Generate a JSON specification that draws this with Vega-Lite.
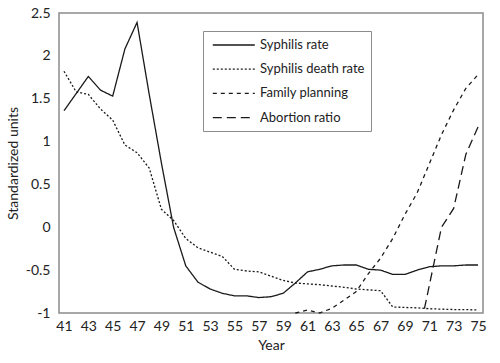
{
  "$schema": "https://vega.github.io/schema/vega-lite/v6.json",
  "width": 424,
  "height": 300,
  "autosize": "none",
  "padding": {"left": 59, "top": 13, "right": 17, "bottom": 50},
  "background": "white",
  "config": {
    "font": "Lato",
    "view": {"stroke": "#8c8c8c", "strokeWidth": 1.5},
    "axis": {"grid": false, "ticks": false, "domain": false, "labelFont": "Lato", "titleFont": "Lato", "labelColor": "#222", "titleColor": "#222", "labelFontSize": 14, "titleFontSize": 14, "titleFontWeight": "normal"}
  },
  "data": {
    "values": [
      {"year": 41, "series": "Syphilis rate", "value": 1.36},
      {"year": 42, "series": "Syphilis rate", "value": 1.56},
      {"year": 43, "series": "Syphilis rate", "value": 1.76},
      {"year": 44, "series": "Syphilis rate", "value": 1.60},
      {"year": 45, "series": "Syphilis rate", "value": 1.53},
      {"year": 46, "series": "Syphilis rate", "value": 2.08},
      {"year": 47, "series": "Syphilis rate", "value": 2.39},
      {"year": 48, "series": "Syphilis rate", "value": 1.55},
      {"year": 49, "series": "Syphilis rate", "value": 0.75},
      {"year": 50, "series": "Syphilis rate", "value": 0.0},
      {"year": 51, "series": "Syphilis rate", "value": -0.45},
      {"year": 52, "series": "Syphilis rate", "value": -0.64},
      {"year": 53, "series": "Syphilis rate", "value": -0.72},
      {"year": 54, "series": "Syphilis rate", "value": -0.77},
      {"year": 55, "series": "Syphilis rate", "value": -0.80},
      {"year": 56, "series": "Syphilis rate", "value": -0.80},
      {"year": 57, "series": "Syphilis rate", "value": -0.82},
      {"year": 58, "series": "Syphilis rate", "value": -0.81},
      {"year": 59, "series": "Syphilis rate", "value": -0.77},
      {"year": 60, "series": "Syphilis rate", "value": -0.65},
      {"year": 61, "series": "Syphilis rate", "value": -0.52},
      {"year": 62, "series": "Syphilis rate", "value": -0.49},
      {"year": 63, "series": "Syphilis rate", "value": -0.45},
      {"year": 64, "series": "Syphilis rate", "value": -0.44},
      {"year": 65, "series": "Syphilis rate", "value": -0.44},
      {"year": 66, "series": "Syphilis rate", "value": -0.49},
      {"year": 67, "series": "Syphilis rate", "value": -0.50},
      {"year": 68, "series": "Syphilis rate", "value": -0.55},
      {"year": 69, "series": "Syphilis rate", "value": -0.55},
      {"year": 70, "series": "Syphilis rate", "value": -0.50},
      {"year": 71, "series": "Syphilis rate", "value": -0.46},
      {"year": 72, "series": "Syphilis rate", "value": -0.45},
      {"year": 73, "series": "Syphilis rate", "value": -0.45},
      {"year": 74, "series": "Syphilis rate", "value": -0.44},
      {"year": 75, "series": "Syphilis rate", "value": -0.44},
      {"year": 41, "series": "Syphilis death rate", "value": 1.82},
      {"year": 42, "series": "Syphilis death rate", "value": 1.58},
      {"year": 43, "series": "Syphilis death rate", "value": 1.55},
      {"year": 44, "series": "Syphilis death rate", "value": 1.38},
      {"year": 45, "series": "Syphilis death rate", "value": 1.25},
      {"year": 46, "series": "Syphilis death rate", "value": 0.96},
      {"year": 47, "series": "Syphilis death rate", "value": 0.87},
      {"year": 48, "series": "Syphilis death rate", "value": 0.69},
      {"year": 49, "series": "Syphilis death rate", "value": 0.21},
      {"year": 50, "series": "Syphilis death rate", "value": 0.08},
      {"year": 51, "series": "Syphilis death rate", "value": -0.13},
      {"year": 52, "series": "Syphilis death rate", "value": -0.24},
      {"year": 53, "series": "Syphilis death rate", "value": -0.29},
      {"year": 54, "series": "Syphilis death rate", "value": -0.34},
      {"year": 55, "series": "Syphilis death rate", "value": -0.49},
      {"year": 56, "series": "Syphilis death rate", "value": -0.51},
      {"year": 57, "series": "Syphilis death rate", "value": -0.52},
      {"year": 58, "series": "Syphilis death rate", "value": -0.57},
      {"year": 59, "series": "Syphilis death rate", "value": -0.62},
      {"year": 60, "series": "Syphilis death rate", "value": -0.65},
      {"year": 61, "series": "Syphilis death rate", "value": -0.66},
      {"year": 62, "series": "Syphilis death rate", "value": -0.67},
      {"year": 63, "series": "Syphilis death rate", "value": -0.685},
      {"year": 64, "series": "Syphilis death rate", "value": -0.70},
      {"year": 65, "series": "Syphilis death rate", "value": -0.72},
      {"year": 66, "series": "Syphilis death rate", "value": -0.73},
      {"year": 67, "series": "Syphilis death rate", "value": -0.74},
      {"year": 68, "series": "Syphilis death rate", "value": -0.93},
      {"year": 69, "series": "Syphilis death rate", "value": -0.935},
      {"year": 70, "series": "Syphilis death rate", "value": -0.94},
      {"year": 71, "series": "Syphilis death rate", "value": -0.95},
      {"year": 72, "series": "Syphilis death rate", "value": -0.955},
      {"year": 73, "series": "Syphilis death rate", "value": -0.96},
      {"year": 74, "series": "Syphilis death rate", "value": -0.96},
      {"year": 75, "series": "Syphilis death rate", "value": -0.965},
      {"year": 60, "series": "Family planning", "value": -1.0},
      {"year": 61, "series": "Family planning", "value": -0.965},
      {"year": 62, "series": "Family planning", "value": -1.0},
      {"year": 63, "series": "Family planning", "value": -0.945},
      {"year": 64, "series": "Family planning", "value": -0.85},
      {"year": 65, "series": "Family planning", "value": -0.75},
      {"year": 66, "series": "Family planning", "value": -0.54},
      {"year": 67, "series": "Family planning", "value": -0.36},
      {"year": 68, "series": "Family planning", "value": -0.13},
      {"year": 69, "series": "Family planning", "value": 0.15},
      {"year": 70, "series": "Family planning", "value": 0.40},
      {"year": 71, "series": "Family planning", "value": 0.74},
      {"year": 72, "series": "Family planning", "value": 1.08},
      {"year": 73, "series": "Family planning", "value": 1.37},
      {"year": 74, "series": "Family planning", "value": 1.62},
      {"year": 75, "series": "Family planning", "value": 1.78},
      {"year": 70.6, "series": "Abortion ratio", "value": -0.95},
      {"year": 72, "series": "Abortion ratio", "value": 0.0},
      {"year": 73, "series": "Abortion ratio", "value": 0.22},
      {"year": 74, "series": "Abortion ratio", "value": 0.85},
      {"year": 75, "series": "Abortion ratio", "value": 1.17}
    ]
  },
  "mark": {"type": "line", "color": "#1a1a1a", "strokeWidth": 1.3},
  "encoding": {
    "x": {
      "field": "year", "type": "quantitative", "title": "Year",
      "scale": {"domain": [40.59, 75.41], "nice": false, "zero": false},
      "axis": {"values": [41,43,45,47,49,51,53,55,57,59,61,63,65,67,69,71,73,75], "format": "d", "labelPadding": 6, "titlePadding": 5}
    },
    "y": {
      "field": "value", "type": "quantitative", "title": "Standardized units",
      "scale": {"domain": [-1, 2.5], "nice": false, "zero": false},
      "axis": {"values": [-1,-0.5,0,0.5,1,1.5,2,2.5], "labelExpr": "toString(datum.value)", "labelPadding": 9, "titlePadding": 5}
    },
    "strokeDash": {
      "field": "series", "type": "nominal",
      "scale": {"domain": ["Syphilis rate", "Syphilis death rate", "Family planning", "Abortion ratio"], "range": [[1, 0], [2, 2], [4, 4], [9, 5]]},
      "legend": {
        "orient": "none", "legendX": 144, "legendY": 18, "title": null,
        "symbolType": "M-0.6,0H5.4", "symbolSize": 196, "symbolStrokeWidth": 1.3, "symbolStrokeColor": "#1a1a1a",
        "strokeColor": "#8c8c8c", "padding": 6, "labelOffset": 35, "labelFontSize": 13, "labelFont": "Lato", "labelColor": "#222", "rowPadding": 9.2
      }
    },
    "order": {"field": "year", "type": "quantitative"}
  }
}
